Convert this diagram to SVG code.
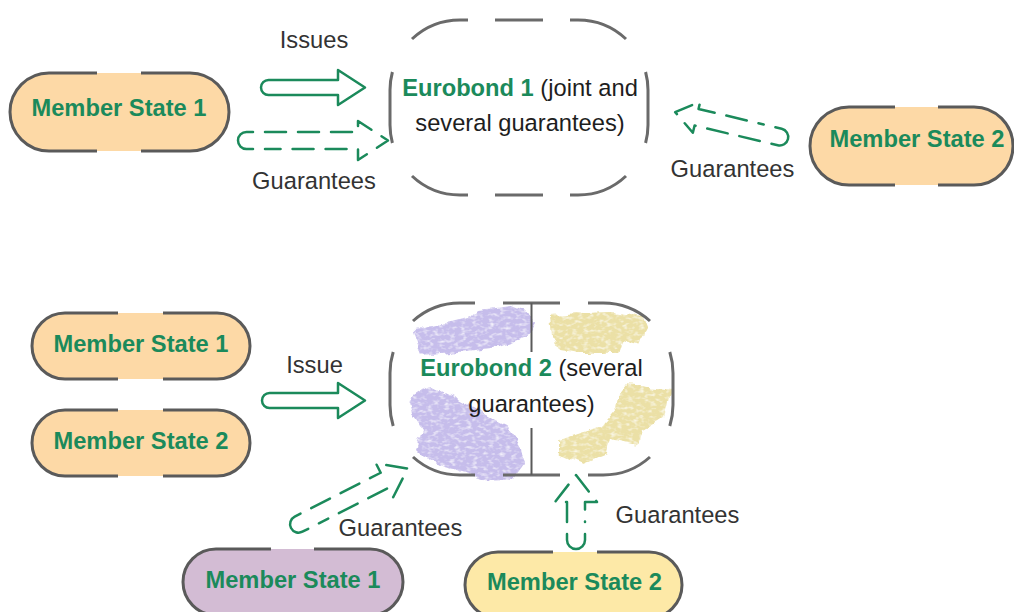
<svg xmlns="http://www.w3.org/2000/svg" width="1014" height="612" viewBox="0 0 1014 612">
  <style>
    .pill-edge { fill: none; stroke: #5a5a5a; stroke-width: 3; stroke-linecap: butt; }
    .box-edge { fill: none; stroke: #6a6a6a; stroke-width: 3; stroke-linecap: butt; }
    .divider { fill: none; stroke: #5a5a5a; stroke-width: 2; }
    .peach { fill: #fdd9a6; }
    .mauve { fill: #d3bcd4; }
    .lemon { fill: #fde9a7; }
    .node-label { font-family: "Liberation Sans", Arial, sans-serif; font-size: 23.7px; font-weight: bold; fill: #1b8a5b; text-anchor: middle; }
    .box-label { font-family: "Liberation Sans", Arial, sans-serif; font-size: 23.7px; fill: #1e1e1e; text-anchor: middle; }
    .box-label .em { font-weight: bold; fill: #1b8a5b; }
    .edge-label { font-family: "Liberation Sans", Arial, sans-serif; font-size: 23.7px; fill: #333333; text-anchor: middle; }
    .arrow { fill: none; stroke: #1b8a5b; stroke-width: 2.5; stroke-linejoin: round; stroke-linecap: round; }
    .dashed { stroke-dasharray: 21 12; }
    .lilac-wash { fill: #c6bdeb; }
    .sand-wash { fill: #ebe0a6; }
  </style>
  <defs>
    <!-- rough, chalky brush fill -->
    <filter id="brush" x="-15%" y="-15%" width="130%" height="130%">
      <feTurbulence type="fractalNoise" baseFrequency="0.07" numOctaves="3" seed="3" result="warp"/>
      <feDisplacementMap in="SourceGraphic" in2="warp" scale="9" xChannelSelector="R" yChannelSelector="G" result="rough"/>
      <feTurbulence type="fractalNoise" baseFrequency="0.18 0.3" numOctaves="2" seed="7" result="grain"/>
      <feColorMatrix in="grain" type="matrix" values="0 0 0 0 0  0 0 0 0 0  0 0 0 0 0  0 0 0 -1.8 1.85" result="grainAlpha"/>
      <feComposite in="rough" in2="grainAlpha" operator="in" result="chalk"/>
      <feGaussianBlur in="chalk" stdDeviation="0.7"/>
    </filter>
  </defs>

  <!-- ===== upper scheme: joint and several guarantees ===== -->
  <g id="ms1-top">
    <rect class="peach" x="10" y="73" width="219" height="78" rx="39"/>
    <path class="pill-edge" d="M97,73 L49,73 A39,39 0 0 0 49,151 L97,151 M141,151 L190,151 A39,39 0 0 0 190,73 L141,73"/>
    <text class="node-label" x="119" y="116">Member State 1</text>
  </g>

  <g id="ms2-top">
    <rect class="peach" x="810" y="107" width="203" height="78" rx="39"/>
    <path class="pill-edge" d="M895,107 L849,107 A39,39 0 0 0 849,185 L895,185 M938,185 L974,185 A39,39 0 0 0 974,107 L938,107"/>
    <text class="node-label" x="917" y="147">Member State 2</text>
  </g>

  <g id="eurobond-1">
    <path class="box-edge" d="M412,39 A70,70 0 0 1 460,20 L468,20 M495,20 L543,20 M570,20 L578,20 A70,70 0 0 1 626,39
                             M392.4,72 A70,70 0 0 0 390,90 L390,125 A70,70 0 0 0 392.4,143
                             M645.6,72 A70,70 0 0 1 648,90 L648,125 A70,70 0 0 1 645.6,143
                             M412,176 A70,70 0 0 0 460,195 L468,195 M495,195 L543,195 M570,195 L578,195 A70,70 0 0 0 626,176"/>
    <text class="box-label" x="520" y="96"><tspan class="em">Eurobond 1</tspan> (joint and</text>
    <text class="box-label" x="520" y="131">several guarantees)</text>
  </g>

  <!-- ===== lower scheme: several guarantees ===== -->
  <g id="ms1-issuer">
    <rect class="peach" x="32" y="313" width="218" height="66" rx="33"/>
    <path class="pill-edge" d="M118,313 L65,313 A33,33 0 0 0 65,379 L118,379 M163,379 L217,379 A33,33 0 0 0 217,313 L163,313"/>
    <text class="node-label" x="141" y="352">Member State 1</text>
  </g>

  <g id="ms2-issuer">
    <rect class="peach" x="32" y="410" width="218" height="66" rx="33"/>
    <path class="pill-edge" d="M118,410 L65,410 A33,33 0 0 0 65,476 L118,476 M163,476 L217,476 A33,33 0 0 0 217,410 L163,410"/>
    <text class="node-label" x="141" y="449">Member State 2</text>
  </g>

  <g id="eurobond-2">
    <g filter="url(#brush)">
      <polygon class="lilac-wash" points="414,330 470,318 478,310 512,306 530,314 534,323 526,338 500,347 468,351 422,356"/>
      <polygon class="sand-wash" points="550,315 580,313 613,312 643,317 647,328 638,345 622,340 618,353 580,353 560,350 552,337"/>
      <polygon class="lilac-wash" points="408,400 430,386 457,399 480,412 507,426 521,447 524,464 513,479 480,478 430,461 416,447 422,430 411,414"/>
      <polygon class="sand-wash" points="627,384 671,390 664,417 641,431 637,444 610,438 607,454 583,464 559,454 559,440 580,433 600,427 617,407 620,393"/>
    </g>
    <path class="box-edge" d="M413,321 A70,70 0 0 1 460,303 L475,303 M503,303 L560,303 M588,303 L603,303 A70,70 0 0 1 650,321
                             M393.2,352 A70,70 0 0 0 390,373 L390,405 A70,70 0 0 0 393.2,426
                             M669.8,352 A70,70 0 0 1 673,373 L673,405 A70,70 0 0 1 669.8,426
                             M413,457 A70,70 0 0 0 460,475 L475,475 M503,475 L560,475 M588,475 L603,475 A70,70 0 0 0 650,457"/>
    <path class="divider" d="M531.5,303 L531.5,352 M531.5,428 L531.5,475"/>
    <text class="box-label" x="531.5" y="376"><tspan class="em">Eurobond 2</tspan> (several</text>
    <text class="box-label" x="531.5" y="412">guarantees)</text>
  </g>

  <g id="ms1-guarantor">
    <rect class="mauve" x="183" y="549" width="220" height="66" rx="33"/>
    <path class="pill-edge" d="M271,549 L216,549 A33,33 0 0 0 216,615 L271,615 M314,615 L370,615 A33,33 0 0 0 370,549 L314,549"/>
    <text class="node-label" x="293" y="588">Member State 1</text>
  </g>

  <g id="ms2-guarantor">
    <rect class="lemon" x="465" y="552" width="217" height="66" rx="33"/>
    <path class="pill-edge" d="M553,552 L498,552 A33,33 0 0 0 498,618 L553,618 M597,618 L649,618 A33,33 0 0 0 649,552 L597,552"/>
    <text class="node-label" x="574.5" y="590">Member State 2</text>
  </g>

  <!-- ===== connectors (block arrows, drawn tail-to-tip along +x, then placed) ===== -->
  <g id="connectors">
    <!-- issues: MS1 -> Eurobond 1 -->
    <path class="arrow" transform="translate(261,87.5)"
          d="M7.5,-7.5 L77,-7.5 L77,-17.5 L104,0 L77,17.5 L77,7.5 L7.5,7.5 A7.5,7.5 0 0 1 7.5,-7.5 Z"/>

    <!-- guarantees: MS1 -> Eurobond 1 -->
    <g transform="translate(238,140.5)">
      <path class="arrow" d="M15,-8.5 L8.5,-8.5 A8.5,8.5 0 0 0 8.5,8.5 L15,8.5"/>
      <path class="arrow dashed" d="M27,-8.5 L120,-8.5 L120,-19.5 L150,0 L120,19.5 L120,8.5 L27,8.5"/>
    </g>

    <!-- guarantees: MS2 -> Eurobond 1 -->
    <g transform="translate(788,139) rotate(193.4)">
      <path class="arrow" d="M15,-8.5 L8.5,-8.5 A8.5,8.5 0 0 0 8.5,8.5 L15,8.5"/>
      <path class="arrow dashed" d="M27,-8.5 L94,-8.5 L94,-16 L116,0 L94,16 L94,8.5 L27,8.5"/>
    </g>

    <!-- issue: MS1 + MS2 -> Eurobond 2 -->
    <path class="arrow" transform="translate(262,400.5)"
          d="M7.5,-7.5 L76,-7.5 L76,-17.5 L103,0 L76,17.5 L76,7.5 L7.5,7.5 A7.5,7.5 0 0 1 7.5,-7.5 Z"/>

    <!-- guarantees: MS1 -> Eurobond 2 -->
    <g transform="translate(291,528) rotate(-27)">
      <path class="arrow" d="M15,-8.5 L8.5,-8.5 A8.5,8.5 0 0 0 8.5,8.5 L15,8.5"/>
      <path class="arrow dashed" d="M27,-8.5 L105,-8.5 L105,-19 L131,0 L105,19 L105,8.5 L27,8.5"/>
    </g>

    <!-- guarantees: MS2 -> Eurobond 2 -->
    <g transform="translate(576,549) rotate(-90)">
      <path class="arrow" d="M15,-9 L9,-9 A9,9 0 0 0 9,9 L15,9"/>
      <path class="arrow dashed" d="M27,-9 L47,-9 L47,-21 L74,0 L47,21 L47,9 L27,9"/>
    </g>

    <text class="edge-label" x="314" y="48">Issues</text>
    <text class="edge-label" x="314" y="189">Guarantees</text>
    <text class="edge-label" x="732.5" y="177">Guarantees</text>
    <text class="edge-label" x="314.5" y="373">Issue</text>
    <text class="edge-label" x="400.5" y="536">Guarantees</text>
    <text class="edge-label" x="677.5" y="523">Guarantees</text>
  </g>
</svg>
